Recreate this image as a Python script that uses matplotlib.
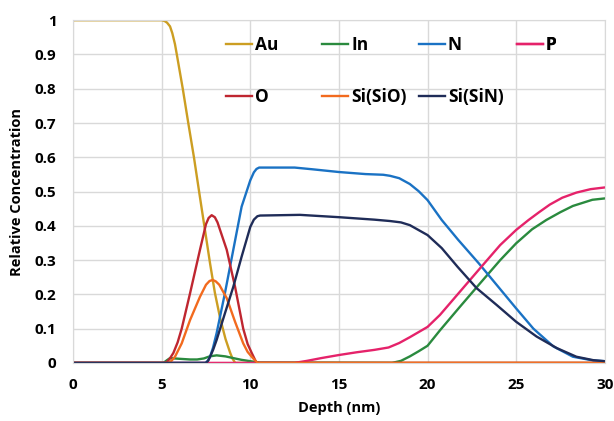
import matplotlib
matplotlib.use("Agg")
import matplotlib.pyplot as plt
from matplotlib.lines import Line2D

# depth profiles (depth in nm, relative concentration)
au_x = [0, 5.0, 5.15, 5.3, 5.47, 5.6, 5.75, 5.87, 6.19, 6.5, 6.82, 7.14, 7.45, 7.73, 8.0, 8.3, 8.6, 8.86, 9.0, 9.15, 30]
au_y = [1, 1, 0.998, 0.993, 0.982, 0.962, 0.93, 0.895, 0.8, 0.7, 0.6, 0.49, 0.385, 0.29, 0.205, 0.13, 0.07, 0.03, 0.012,
        0.0, 0.0]

in_x = [0, 5.1, 5.3, 5.47, 6.0, 6.6, 7.0, 7.38, 7.7, 8.1, 8.6, 9.04, 9.5, 10.0, 10.5, 18.0, 18.5, 19.0, 19.5, 20.0, 20.7,
        21.83, 22.96, 24.1, 25.0, 25.9, 26.7, 27.5, 28.2, 29.3, 30]
in_y = [0, 0, 0.008, 0.014, 0.012, 0.01, 0.01, 0.013, 0.019, 0.022, 0.019, 0.014, 0.009, 0.005, 0.001, 0, 0.006, 0.019,
        0.034, 0.05, 0.095, 0.164, 0.232, 0.30, 0.349, 0.39, 0.417, 0.44, 0.458, 0.476, 0.48]

n_x = [0, 7.45, 7.6, 7.73, 7.9, 8.1, 8.57, 9.04, 9.51, 10.0, 10.2, 10.35, 10.5, 12.5, 13.5, 15.0, 16.5, 17.5, 17.88, 18.4,
       19.0, 19.5, 20.0, 20.8, 21.73, 22.9, 23.99, 25.0, 25.97, 27.1, 28.2, 29.35, 30]
n_y = [0, 0, 0.006, 0.018, 0.045, 0.087, 0.204, 0.33, 0.456, 0.533, 0.556, 0.566, 0.57, 0.57, 0.565, 0.557, 0.551, 0.549,
       0.546, 0.539, 0.522, 0.501, 0.475, 0.417, 0.359, 0.29, 0.222, 0.159, 0.1, 0.048, 0.018, 0.007, 0.005]

p_x = [0, 12.5, 13.2, 14.0, 15.0, 16.0, 17.0, 17.8, 18.4, 19.0, 19.5, 20.0, 20.7, 21.83, 22.96, 24.1, 25.0, 25.7, 26.3,
       26.9, 27.6, 28.4, 29.2, 30]
p_y = [0, 0, 0.006, 0.014, 0.023, 0.031, 0.038, 0.045, 0.058, 0.075, 0.09, 0.105, 0.14, 0.208, 0.276, 0.344, 0.388, 0.417,
       0.44, 0.462, 0.482, 0.497, 0.507, 0.512]

o_x = [0, 5.2, 5.3, 5.45, 5.66, 5.9, 6.13, 6.6, 7.16, 7.5, 7.65, 7.82, 8.0, 8.15, 8.67, 9.14, 9.6, 9.85, 10.08, 10.35, 30]
o_y = [0, 0, 0.003, 0.012, 0.029, 0.06, 0.1, 0.203, 0.33, 0.405, 0.423, 0.431, 0.425, 0.41, 0.33, 0.222, 0.1, 0.055, 0.029,
       0.0, 0.0]

sio_x = [0, 5.4, 5.55, 5.75, 6.13, 6.6, 7.16, 7.5, 7.7, 7.88, 8.05, 8.25, 8.67, 9.14, 9.6, 9.85, 10.08, 10.4, 30]
sio_y = [0, 0, 0.006, 0.018, 0.057, 0.125, 0.193, 0.228, 0.239, 0.242, 0.238, 0.228, 0.189, 0.12, 0.057, 0.032, 0.018,
         0.0, 0.0]

sin_x = [0, 7.5, 7.62, 7.73, 7.9, 8.1, 8.57, 9.04, 9.51, 10.0, 10.2, 10.4, 10.55, 12.8, 15.06, 17.0, 17.88, 18.5, 19.0,
         20.0, 20.8, 21.7, 22.77, 23.9, 25.0, 26.15, 27.3, 28.4, 29.35, 30]
sin_y = [0, 0, 0.006, 0.018, 0.038, 0.067, 0.145, 0.222, 0.31, 0.397, 0.418, 0.428, 0.43, 0.432, 0.425, 0.418, 0.414,
         0.41, 0.402, 0.373, 0.335, 0.28, 0.218, 0.169, 0.12, 0.077, 0.043, 0.018, 0.008, 0.005]

series = [
    ("Au", au_x, au_y, "#CC9E22"),
    ("In", in_x, in_y, "#2A8A3E"),
    ("N", n_x, n_y, "#1A72C4"),
    ("P", p_x, p_y, "#E5226A"),
    ("O", o_x, o_y, "#BF2630"),
    ("Si(SiO)", sio_x, sio_y, "#F26A1E"),
    ("Si(SiN)", sin_x, sin_y, "#1F2C58"),
]

x_ticks = [0, 5, 10, 15, 20, 25, 30]
y_ticks = [0, 0.1, 0.2, 0.3, 0.4, 0.5, 0.6, 0.7, 0.8, 0.9, 1]
y_labels = ["0", "0.1", "0.2", "0.3", "0.4", "0.5", "0.6", "0.7", "0.8", "0.9", "1"]

plt.rcParams['font.family'] = ['Open Sans', 'DejaVu Sans']

fig = plt.figure(figsize=(6.14, 4.21), dpi=100)
ax = fig.add_axes([0.119, 0.138, 0.866, 0.814])

handles = {}
for name, xs, ys, col in series:
    ax.plot(xs, ys, color=col, lw=1.7, solid_capstyle='round', solid_joinstyle='round')
    handles[name] = Line2D([0], [0], color=col, lw=1.7)

ax.set_xlim(0, 30)
ax.set_ylim(0, 1)
ax.set_xticks(x_ticks)
ax.set_yticks(y_ticks)
ax.set_yticklabels(y_labels)
ax.grid(True, color="#D9D9D9", lw=1.0)
ax.set_axisbelow(True)
for sp in ax.spines.values():
    sp.set_color("#D9D9D9")
ax.tick_params(axis="x", length=0, labelsize=11, pad=11)
ax.tick_params(axis="y", length=0, labelsize=11, pad=12)
for lab in ax.get_xticklabels() + ax.get_yticklabels():
    lab.set_fontweight("bold")

ax.set_xlabel("Depth (nm)", fontsize=10.5, fontweight="bold", labelpad=6)
ax.set_ylabel("Relative Concentration", fontsize=10.5, fontweight="bold", labelpad=8)

# legend laid out like Excel: 4 fixed-width columns, 2 rows
columns = [["Au", "O"], ["In", "Si(SiO)"], ["N", "Si(SiN)"], ["P"]]
col_left = [0.288, 0.469, 0.651, 0.835]
for names, xl in zip(columns, col_left):
    leg = ax.legend([handles[n] for n in names], names, loc="upper left",
                    bbox_to_anchor=(xl, 0.955), frameon=False, ncol=1,
                    prop={"weight": "bold", "size": 12.5}, handlelength=1.5,
                    handletextpad=0.15, labelspacing=2.0, borderpad=0, borderaxespad=0)
    ax.add_artist(leg)

fig.savefig("out.png", dpi=100)
